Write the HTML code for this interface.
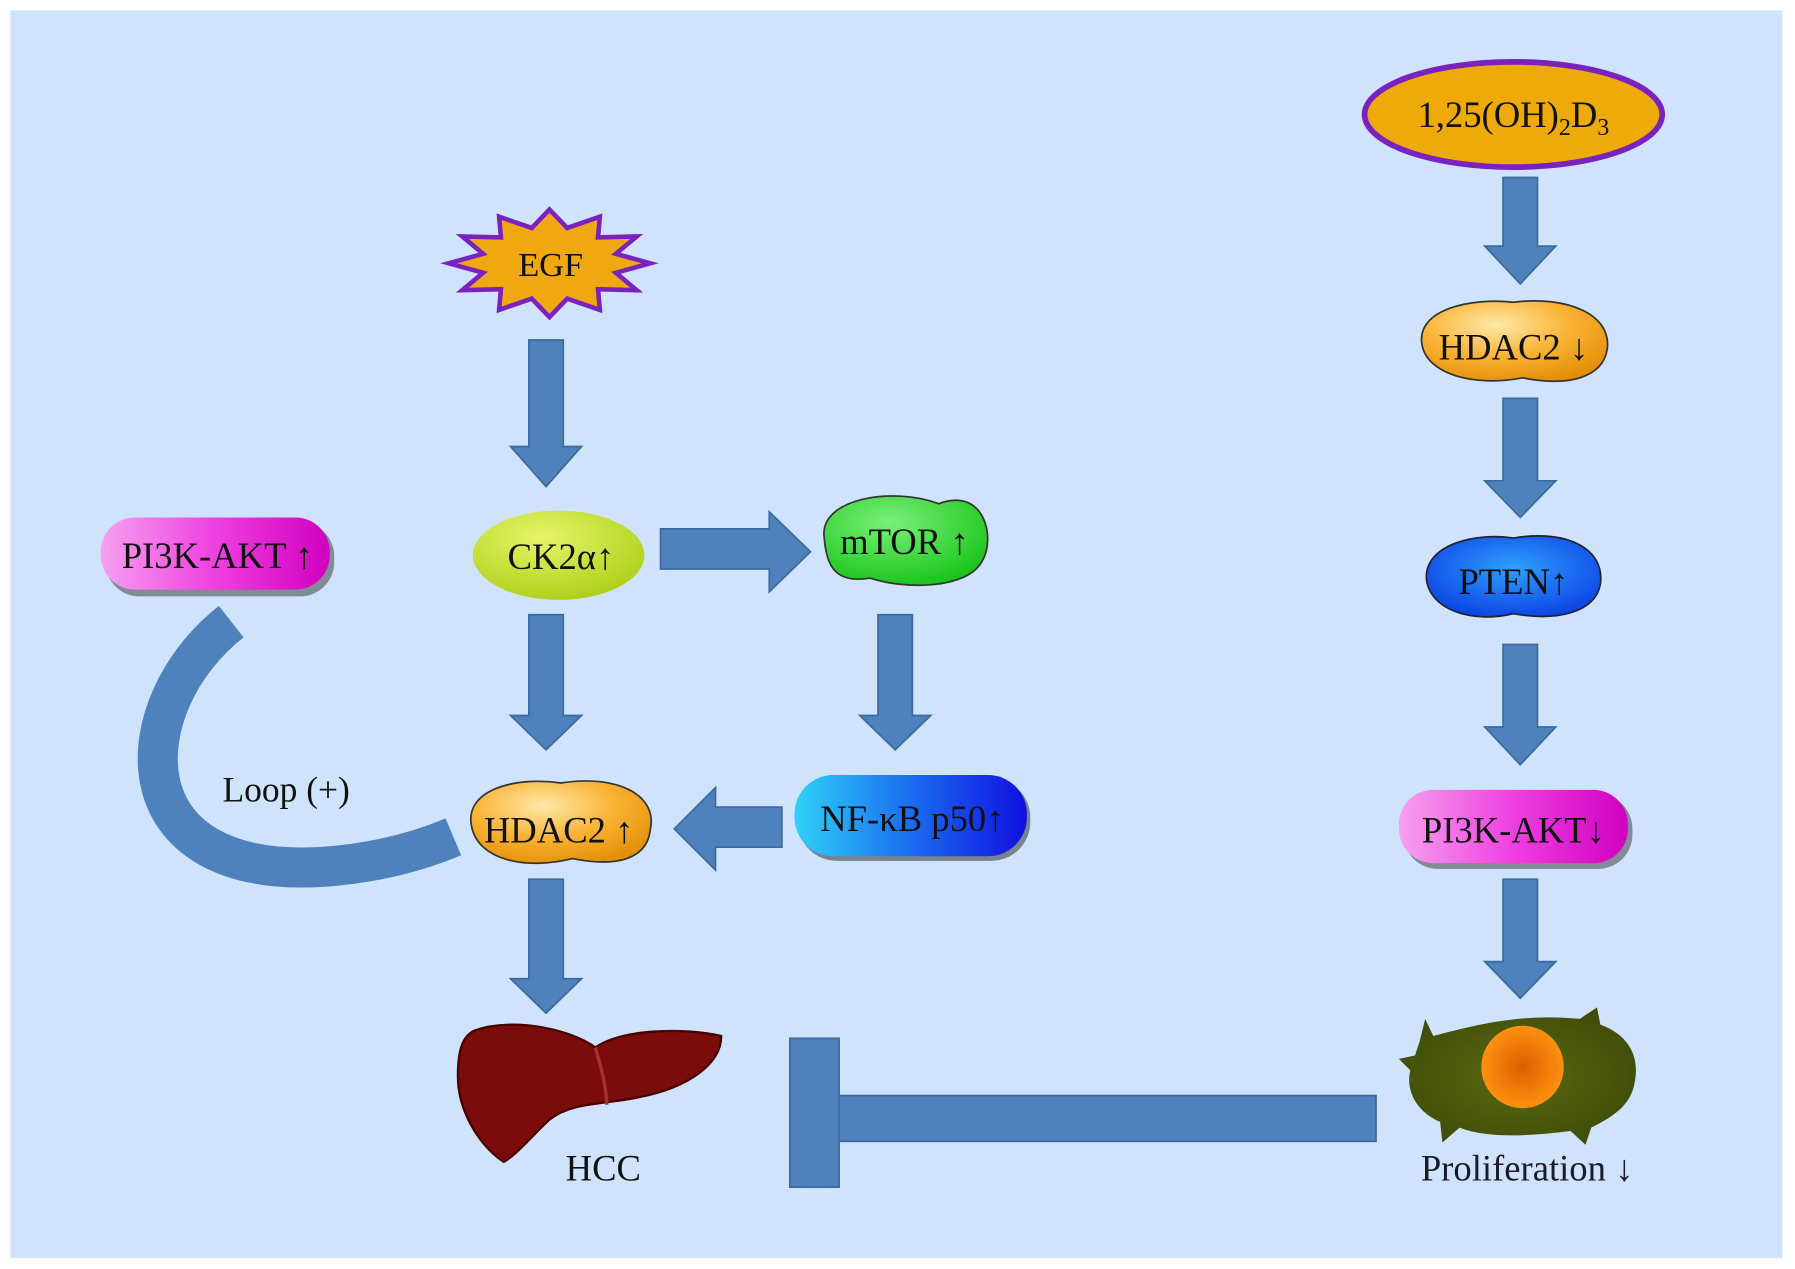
<!DOCTYPE html>
<html><head><meta charset="utf-8"><style>html,body{margin:0;padding:0;background:#fff}svg{display:block}</style></head>
<body>
<svg width="1795" height="1269" viewBox="0 0 1568 1108.5" xmlns="http://www.w3.org/2000/svg" font-family="'Liberation Serif', serif">
<defs>
<radialGradient id="gOr" cx="0.4" cy="0.3" r="0.8"><stop offset="0" stop-color="#ffe9a8"/><stop offset="0.5" stop-color="#f9b234"/><stop offset="1" stop-color="#e08a00"/></radialGradient>
<radialGradient id="gYg" cx="0.4" cy="0.3" r="0.8"><stop offset="0" stop-color="#e6f56a"/><stop offset="1" stop-color="#a8cc10"/></radialGradient>
<radialGradient id="gGr" cx="0.4" cy="0.3" r="0.8"><stop offset="0" stop-color="#7af07a"/><stop offset="1" stop-color="#10c010"/></radialGradient>
<linearGradient id="gMag" x1="0" y1="0" x2="1" y2="0"><stop offset="0" stop-color="#f7a0f0"/><stop offset="0.5" stop-color="#ee40e0"/><stop offset="1" stop-color="#d000c0"/></linearGradient>
<linearGradient id="gNf" x1="0" y1="0" x2="1" y2="0"><stop offset="0" stop-color="#30d0f8"/><stop offset="0.5" stop-color="#1a6cf0"/><stop offset="1" stop-color="#1010e0"/></linearGradient>
<radialGradient id="gPt" cx="0.5" cy="0.4" r="0.7"><stop offset="0" stop-color="#30a0ff"/><stop offset="1" stop-color="#0838e0"/></radialGradient>
<radialGradient id="gCell" cx="0.5" cy="0.5" r="0.6"><stop offset="0" stop-color="#5a6a10"/><stop offset="1" stop-color="#3e4a08"/></radialGradient>
<radialGradient id="gNuc" cx="0.5" cy="0.5" r="0.5"><stop offset="0" stop-color="#d86000"/><stop offset="1" stop-color="#ff9010"/></radialGradient>
</defs>
<rect x="9" y="9" width="1548" height="1090" fill="#cfe4fc"/>
<g fill="#4f81bd" stroke="#3d6a9e" stroke-width="1.5">
<polygon points="462,297 492,297 492,390 508,390 477,425 446,390 462,390"/>
<polygon points="462,537 492,537 492,625 508,625 477,655 446,625 462,625"/>
<polygon points="767,537 797,537 797,625 813,625 782,655 751,625 767,625"/>
<polygon points="462,768 492,768 492,855 508,855 477,885 446,855 462,855"/>
<polygon points="1313,155 1343,155 1343,215 1359,215 1328,248 1297,215 1313,215"/>
<polygon points="1313,348 1343,348 1343,420 1359,420 1328,452 1297,420 1313,420"/>
<polygon points="1313,563 1343,563 1343,635 1359,635 1328,668 1297,635 1313,635"/>
<polygon points="1313,768 1343,768 1343,840 1359,840 1328,872 1297,840 1313,840"/>
<polygon points="577,462 672,462 672,447 708,482 672,517 672,497 577,497"/>
<polygon points="683,705 625,705 625,688 589,724 625,760 625,740 683,740"/>
<rect x="690" y="907" width="43" height="130"/>
<rect x="733" y="957" width="469" height="40"/>
</g>
<path d="M202,543 C110,615 100,770 285,757 C335,753 370,742 396,731" fill="none" stroke="#4f81bd" stroke-width="35"/>
<text x="250" y="700" font-size="31" text-anchor="middle" fill="#111">Loop (+)</text>
<polygon points="568,230 538,238.3 556.2,253.5 522.4,252.6 524,270.7 495.5,260.9 480,277 464.5,260.9 436,270.7 437.6,252.6 403.8,253.5 422,238.3 392,230 422,221.7 403.8,206.5 437.6,207.4 436,189.3 464.5,199.1 480,183 495.5,199.1 524,189.3 522.4,207.4 556.2,206.5 538,221.7" fill="#f0a810" stroke="#7a22c0" stroke-width="4"/>
<text x="481" y="241" font-size="30" text-anchor="middle" fill="#111">EGF</text>
<ellipse cx="1322" cy="100" rx="130" ry="46" fill="#eeaa08" stroke="#7a22c0" stroke-width="5"/>
<text x="1322" y="111" font-size="32" text-anchor="middle" fill="#111">1,25(OH)<tspan font-size="21" dy="7">2</tspan><tspan dy="-7">D</tspan><tspan font-size="21" dy="7">3</tspan></text>
<rect x="92" y="456" width="200" height="65" rx="30" fill="#333" opacity="0.5"/>
<rect x="88" y="452" width="200" height="63" rx="30" fill="url(#gMag)"/>
<text x="190" y="496" font-size="32" text-anchor="middle" fill="#111">PI3K-AKT ↑</text>
<ellipse cx="488" cy="485" rx="75" ry="39" fill="url(#gYg)"/>
<text x="490" y="497" font-size="32" text-anchor="middle" fill="#111">CK2α↑</text>
<path d="M720,470 C715,435 780,425 820,440 C860,425 870,470 858,490 C845,515 790,515 760,505 C730,510 722,495 720,470 Z" fill="url(#gGr)" stroke="#333" stroke-width="1.5"/>
<text x="790" y="484" font-size="32" text-anchor="middle" fill="#111">mTOR ↑</text>
<rect x="697" y="680" width="203" height="72" rx="34" fill="#222" opacity="0.5"/>
<rect x="694" y="677" width="203" height="71" rx="34" fill="url(#gNf)"/>
<text x="797" y="726" font-size="32" text-anchor="middle" fill="#111">NF-κB p50↑</text>
<path d="M412,722 C405,690 450,678 490,684 C540,676 575,695 568,725 C565,750 540,758 500,750 C460,760 418,752 412,722 Z" fill="url(#gOr)" stroke="#333" stroke-width="1.5"/>
<text x="488" y="736" font-size="32" text-anchor="middle" fill="#111">HDAC2 ↑</text>
<path d="M1242,300 C1238,270 1285,260 1322,264 C1370,258 1408,275 1404,305 C1400,330 1370,338 1330,330 C1290,338 1246,328 1242,300 Z" fill="url(#gOr)" stroke="#333" stroke-width="1.5"/>
<text x="1322" y="314" font-size="32" text-anchor="middle" fill="#111">HDAC2 ↓</text>
<path d="M1246,505 C1245,475 1290,465 1322,470 C1370,462 1402,480 1398,510 C1394,535 1360,543 1322,536 C1285,545 1248,532 1246,505 Z" fill="url(#gPt)" stroke="#223" stroke-width="1.5"/>
<text x="1322" y="519" font-size="32" text-anchor="middle" fill="#111">PTEN↑</text>
<rect x="1226" y="694" width="200" height="65" rx="30" fill="#333" opacity="0.5"/>
<rect x="1222" y="690" width="200" height="64" rx="30" fill="url(#gMag)"/>
<text x="1322" y="736" font-size="32" text-anchor="middle" fill="#111">PI3K-AKT↓</text>
<path d="M415,900 C450,888 500,900 520,915 C545,898 600,898 630,905 C630,930 600,950 560,958 C530,965 500,962 480,978 C465,992 452,1008 440,1015 C418,1000 400,970 400,940 C400,920 403,905 415,900 Z" fill="#7a0c0c" stroke="#4a0000" stroke-width="2"/>
<path d="M520,915 C525,932 530,950 530,965" fill="none" stroke="#a83030" stroke-width="3"/>
<text x="527" y="1031" font-size="32" text-anchor="middle" fill="#111">HCC</text>
<path d="M1240,910 L1245,890 L1252,905 C1290,895 1330,885 1380,890 L1395,880 L1398,895 C1425,905 1432,925 1428,945 C1425,965 1410,975 1390,985 L1385,1000 L1372,988 C1340,992 1300,995 1275,985 L1260,998 L1258,980 C1235,970 1228,950 1232,935 L1222,925 L1236,922 Z" fill="url(#gCell)"/>
<circle cx="1330" cy="932" r="36" fill="url(#gNuc)"/>
<text x="1334" y="1031" font-size="32" text-anchor="middle" fill="#1a1a2a">Proliferation ↓</text>
</svg>
</body></html>
